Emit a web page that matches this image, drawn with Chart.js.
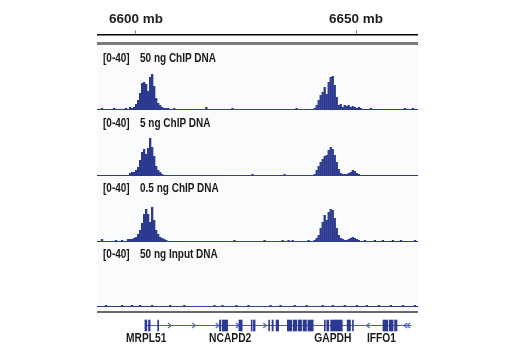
<!DOCTYPE html>
<html><head><meta charset="utf-8">
<script src="https://cdn.jsdelivr.net/npm/chart.js@4.4.1/dist/chart.umd.min.js"></script>
<style>
html,body{margin:0;padding:0;background:#fff;}
#root{position:relative;width:520px;height:350px;overflow:hidden;}
#root canvas{position:absolute;}
.deco{position:absolute;}
.lbl{position:absolute;font-weight:bold;font-size:12.5px;line-height:13px;color:#1a1a1a;white-space:nowrap;
 font-family:"Liberation Sans",Arial,sans-serif;transform:scaleX(0.8);transform-origin:0 0;}
</style></head><body><div id="root"></div>
<script>
// ---- data ----
const trackRange = '[0-40]';
const trackNames = ['50 ng ChIP DNA', '5 ng ChIP DNA', '0.5 ng ChIP DNA', '50 ng Input DNA'];
const rulerTicks = [6600, 6650];           // mb
const viewStartMb = 6591.14, viewEndMb = 6664.09;
const binCount = 160;

const chip50 = [
 1,1,2,1,1,1,1,1,2,1, 1,1,1,1,2,1,3,2,3,6, 10,17,27,28,26,19,33,36,24,12, 7,5,3,2,2,2,1,1,2,1,
 1,1,1,1,1,1,1,1,1,1, 1,1,1,1,3,1,1,1,1,1, 1,1,1,1,1,1,1,2,1,1, 1,1,1,1,1,1,1,1,1,1,
 1,1,1,1,1,1,1,1,1,1, 1,1,1,1,1,1,1,1,1,2, 1,1,1,1,1,1,1,1,2,5, 10,15,18,23,16,28,33,34,25,13,
 5,6,3,5,4,5,3,4,3,2, 3,2,1,1,1,1,2,1,1,1, 1,1,1,1,1,1,1,1,1,1, 1,1,1,2,1,1,1,2,1,1];
const chip5 = [
 1,1,1,1,1,1,1,1,1,1, 1,1,1,1,1,1,3,4,4,6, 9,16,24,27,22,28,38,29,20,10, 6,4,2,1,1,1,1,1,1,1,
 1,1,1,1,1,1,1,1,1,1, 1,1,1,1,1,1,1,1,1,1, 1,1,1,1,1,1,1,1,1,1, 1,1,1,1,1,1,1,2,1,1,
 1,1,1,1,1,1,1,1,1,1, 1,1,1,2,1,1,1,1,1,1, 1,1,1,1,1,1,1,1,2,6, 10,14,17,20,21,26,29,27,21,14,
 7,3,2,2,2,3,4,6,5,3, 2,1,1,1,1,1,1,1,1,1, 1,1,1,1,1,1,1,1,1,1, 1,1,1,1,1,1,1,1,1,1];
const chip05 = [
 1,1,3,1,1,1,1,1,1,2, 1,1,2,1,1,3,3,3,4,5, 8,12,19,28,33,28,20,35,22,12, 8,5,4,3,2,1,1,1,1,1,
 1,1,1,1,1,1,1,1,1,1, 1,1,1,1,1,1,1,1,1,1, 1,1,1,1,1,1,1,1,2,1, 1,1,1,1,1,1,1,1,1,1,
 1,1,1,2,1,1,1,1,1,1, 1,1,2,1,1,2,1,2,1,1, 1,1,1,1,1,2,1,1,2,4, 7,14,20,27,22,30,33,32,24,14,
 7,4,3,2,2,3,4,5,4,3, 2,1,1,2,1,1,1,1,2,1, 1,1,2,1,1,1,1,2,1,1, 1,2,1,1,1,1,1,1,2,1];
const input50 = [
 1,1,1,1,2,1,1,1,1,1, 1,1,2,1,1,1,1,2,1,1, 1,2,1,1,1,1,1,2,1,1, 1,1,1,1,1,1,2,1,1,1,
 1,1,1,2,1,1,1,1,1,1, 1,1,1,1,1,1,1,1,2,1, 1,1,2,1,1,1,1,1,1,2, 1,1,1,1,1,2,1,1,1,1,
 1,1,1,1,1,1,2,1,1,1, 1,2,1,1,1,1,1,1,2,1, 1,1,1,1,2,1,1,1,1,1, 1,1,2,1,1,1,1,2,1,1,
 1,1,1,2,1,1,1,1,1,2, 1,1,1,1,2,1,1,1,1,1, 2,1,1,1,1,1,2,1,1,1, 1,1,2,1,1,1,1,1,2,1];

// gene annotation (mb)
const exons = [
 [6601.20,6601.66],[6602.05,6602.43],[6604.20,6604.43],
 [6618.70,6618.98],[6619.32,6620.61],[6623.25,6624.02],[6626.14,6626.36],[6626.66,6627.05],
 [6630.23,6630.45],[6631.02,6631.30],[6631.98,6632.57],[6634.61,6635.68],[6636.02,6636.82],
 [6637.16,6637.95],[6638.30,6639.09],[6639.43,6640.68],
 [6643.30,6643.52],[6643.86,6644.32],[6644.77,6647.50],[6648.64,6649.43],[6649.89,6650.11],
 [6657.05,6658.18],[6658.52,6659.43],[6659.77,6660.34]];
const intron = [6601.25, 6663.75];
const fwdArrowsMb = [6606.98, 6612.66, 6618.18, 6622.89, 6629.32];
const revArrowsMb = [6653.57, 6662.36, 6663.05];
const geneNames = ['MRPL51', 'NCAPD2', 'GAPDH', 'IFFO1'];
const geneLabelMb = [6601.5, 6621.2, 6645.3, 6656.7];

// ---- drawing ----
const FONT = '"Liberation Sans",Arial,sans-serif';
const BAR = '#2b3990';
const LINE = '#4a5cc0';
const root = document.getElementById('root');
const PX_L = 97, PX_W = 321;

function deco(l, t, w, h, c) {
  const d = document.createElement('div'); d.className = 'deco';
  Object.assign(d.style, {left: l + 'px', top: t + 'px', width: w + 'px', height: h + 'px', background: c});
  root.appendChild(d);
}
function mkCanvas(l, t, w, h) {
  const c = document.createElement('canvas');
  c.width = w; c.height = h;
  Object.assign(c.style, {left: l + 'px', top: t + 'px', width: w + 'px', height: h + 'px'});
  root.appendChild(c); return c;
}
function label(text, l, t) {
  const d = document.createElement('div'); d.className = 'lbl'; d.textContent = text;
  d.style.left = l + 'px'; d.style.top = t + 'px'; root.appendChild(d);
}

deco(PX_L, 46, PX_W, 265, '#fafbfd');
deco(PX_L, 42, PX_W, 3, '#7b7b7b');
deco(PX_L, 311, PX_W, 2, '#6a6a6a');

const base = {responsive: false, animation: false, events: [],
  plugins: {legend: {display: false}, tooltip: {enabled: false}, title: {display: false}}};

// ruler (tall transparent canvas so the top axis is not height-limited)
new Chart(mkCanvas(PX_L, 0, PX_W, 68), {
  type: 'line', data: {datasets: []},
  options: Object.assign({}, base, {
    layout: {padding: {top: 8, left: 0, right: 0, bottom: 0}},
    scales: {
      x: {type: 'linear', position: 'top', min: viewStartMb, max: viewEndMb,
          afterBuildTicks: s => { s.ticks = rulerTicks.map(v => ({value: v})); },
          ticks: {callback: v => v + ' mb', font: {family: FONT, size: 13.5, weight: 'bold'}, color: '#1e1e1e',
                  padding: 3, maxRotation: 0, autoSkip: false},
          grid: {drawOnChartArea: false, drawTicks: true, tickLength: 5, color: '#8a8a8a', lineWidth: 1},
          border: {display: true, color: '#000', width: 1.5}},
      y: {display: false}
    }})
});

// tracks
const binCenters = Array.from({length: binCount}, (_, i) =>
  (viewStartMb + (i + 0.5) * (viewEndMb - viewStartMb) / binCount).toFixed(3));
const trackData = [chip50, chip5, chip05, input50];
const baselines = [110, 176, 242, 307];
const labelTops = [52, 116.5, 181.5, 248];
trackData.forEach((vals, k) => {
  new Chart(mkCanvas(PX_L, baselines[k] - 40, PX_W, 40), {
    type: 'bar',
    data: {labels: binCenters, datasets: [{data: vals, backgroundColor: BAR, borderWidth: 0,
      barPercentage: 1.15, categoryPercentage: 1}]},
    options: Object.assign({}, base, {
      layout: {padding: 0},
      scales: {x: {display: false}, y: {display: false, min: 0, max: 40}}})
  });
  label(trackRange, 103, labelTops[k]);
  label(trackNames[k], 139.5, labelTops[k]);
});

// gene track
function chevron(dir) {
  const c = document.createElement('canvas'); c.width = 5; c.height = 7;
  const g = c.getContext('2d'); g.strokeStyle = LINE; g.lineWidth = 1.2; g.beginPath();
  if (dir > 0) { g.moveTo(1, 1); g.lineTo(4, 3.5); g.lineTo(1, 6); }
  else { g.moveTo(4, 1); g.lineTo(1, 3.5); g.lineTo(4, 6); }
  g.stroke(); return c;
}
const geneLabels = {
  id: 'geneLabels',
  afterDraw(chart) {
    const ctx = chart.ctx, xs = chart.scales.x;
    ctx.save(); ctx.font = 'bold 13.5px ' + FONT; ctx.fillStyle = '#1a1a1a';
    ctx.textAlign = 'center'; ctx.textBaseline = 'middle';
    geneNames.forEach((n, i) => {
      ctx.save(); ctx.translate(xs.getPixelForValue(geneLabelMb[i]), 24); ctx.scale(0.76, 1);
      ctx.fillText(n, 0, 0); ctx.restore();
    });
    ctx.restore();
  }
};
new Chart(mkCanvas(PX_L, 314, PX_W, 34), {
  data: {datasets: [
    {type: 'bar', indexAxis: 'y', data: exons.map(e => ({x: e, y: 'gene'})), backgroundColor: BAR,
     borderWidth: 0, barThickness: 11, grouped: false, order: 0},
    {type: 'line', data: fwdArrowsMb.map(v => ({x: v, y: 'gene'})), showLine: false,
     pointStyle: chevron(1), pointRadius: 3, order: 1},
    {type: 'line', data: revArrowsMb.map(v => ({x: v, y: 'gene'})), showLine: false,
     pointStyle: chevron(-1), pointRadius: 3, order: 1},
    {type: 'line', data: intron.map(v => ({x: v, y: 'gene'})), borderColor: LINE, borderWidth: 1,
     pointRadius: 0, order: 2}
  ]},
  options: Object.assign({}, base, {
    layout: {padding: {top: 0, bottom: 16, left: 0, right: 0}},
    scales: {x: {type: 'linear', min: viewStartMb, max: viewEndMb, display: false},
             y: {type: 'category', labels: ['gene'], offset: true, display: false}}}),
  plugins: [geneLabels]
});
</script></body></html>
